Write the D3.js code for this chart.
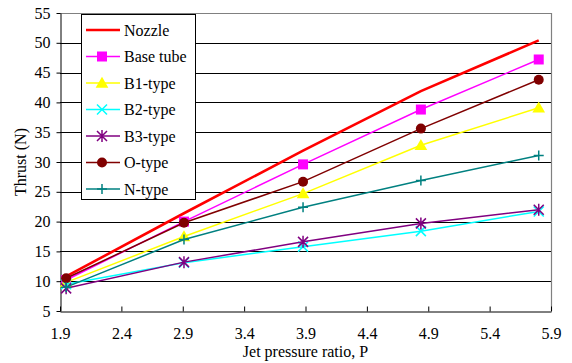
<!DOCTYPE html>
<html>
<head>
<meta charset="utf-8">
<script src="https://cdn.jsdelivr.net/npm/d3@7/dist/d3.min.js"></script>
<style>
  html, body { margin: 0; padding: 0; background: #fff; }
  svg { display: block; font-family: "Liberation Serif", "Times New Roman", serif; }
</style>
</head>
<body>
<svg id="chart" width="572" height="363"></svg>
<script>
// Jet pressure ratio at each measurement
const pressureRatio = [1.95, 2.91, 3.88, 4.84, 5.8];

// Thrust (N) per configuration
const nozzle   = [10.8, 21.4, 31.9, 41.9, 50.4];
const baseTube = [10.2, 20.0, 29.6, 38.8, 47.2];
const b1Type   = [9.8, 17.5, 24.7, 32.8, 39.1];
const b2Type   = [9.5, 13.1, 15.8, 18.4, 21.7];
const b3Type   = [8.8, 13.2, 16.6, 19.7, 22.0];
const oType    = [10.5, 19.8, 26.7, 35.6, 43.8];
const nType    = [9.0, 17.0, 22.4, 26.9, 31.1];

const seriesNames = ["Nozzle", "Base tube", "B1-type", "B2-type", "B3-type", "O-type", "N-type"];

const xTicks = [1.9, 2.4, 2.9, 3.4, 3.9, 4.4, 4.9, 5.4, 5.9];
const yTicks = [5, 10, 15, 20, 25, 30, 35, 40, 45, 50, 55];

const xTitle = "Jet pressure ratio, P";
const yTitle = "Thrust (N)";

// Styling for each series
const styles = [
  { color: "#ff0000", width: 2.6, marker: "none" },
  { color: "#ff00ff", width: 1.5, marker: "square" },
  { color: "#ffff00", width: 1.5, marker: "triangle" },
  { color: "#00ffff", width: 1.5, marker: "times" },
  { color: "#800080", width: 1.5, marker: "star" },
  { color: "#800000", width: 1.5, marker: "circle" },
  { color: "#008080", width: 1.5, marker: "plus" }
];

const seriesData = [nozzle, baseTube, b1Type, b2Type, b3Type, oType, nType];
const series = seriesNames.map((name, i) => ({
  name,
  style: styles[i],
  points: pressureRatio.map((p, j) => ({ x: p, y: seriesData[i][j] }))
}));

const plot = { left: 60, right: 551, top: 13, bottom: 311 };

const x = d3.scaleLinear().domain([1.9, 5.9]).range([plot.left, plot.right]);
const y = d3.scaleLinear().domain([5, 55]).range([plot.bottom, plot.top]);

const svg = d3.select("#chart");

// Horizontal gridlines
svg.append("g")
  .selectAll("line")
  .data(yTicks.filter(t => t > 5 && t < 55))
  .join("line")
  .attr("x1", plot.left).attr("x2", plot.right)
  .attr("y1", d => Math.round(y(d)) + 0.5).attr("y2", d => Math.round(y(d)) + 0.5)
  .attr("stroke", "#000").attr("stroke-width", 1);

// Plot frame: top and right in grey
svg.append("path")
  .attr("d", `M${plot.left},${plot.top + 0.5}H${plot.right + 0.5}V${plot.bottom}`)
  .attr("fill", "none").attr("stroke", "#808080").attr("stroke-width", 1.2);

// Y axis
const yAxis = d3.axisLeft(y).tickValues(yTicks).tickSize(4).tickSizeOuter(0).tickFormat(d3.format("d"));
const gy = svg.append("g").attr("transform", `translate(${plot.left + 0.5},0)`).call(yAxis);
gy.select(".domain").attr("stroke", "#000");
gy.selectAll(".tick line").attr("stroke", "#000");
gy.selectAll(".tick text")
  .attr("x", -10)
  .attr("font-family", "Liberation Serif, Times New Roman, serif")
  .attr("font-size", 16).attr("fill", "#000");

// X axis with ticks pointing into the plot
const xAxis = d3.axisBottom(x).tickValues(xTicks).tickSize(-5).tickSizeOuter(0).tickFormat(d3.format(".1f"));
const gx = svg.append("g").attr("transform", `translate(0,${plot.bottom + 0.5})`).call(xAxis);
gx.select(".domain").attr("stroke", "#000");
gx.selectAll(".tick line").attr("stroke", "#000");
gx.selectAll(".tick text")
  .attr("y", 16)
  .attr("font-family", "Liberation Serif, Times New Roman, serif")
  .attr("font-size", 16).attr("fill", "#000");

// Axis titles
svg.append("text")
  .attr("x", (plot.left + plot.right) / 2).attr("y", 357)
  .attr("text-anchor", "middle").attr("font-size", 16).attr("fill", "#000")
  .text(xTitle);

svg.append("text")
  .attr("transform", `translate(26,${(plot.top + plot.bottom) / 2}) rotate(-90)`)
  .attr("text-anchor", "middle").attr("font-size", 16).attr("fill", "#000")
  .text(yTitle);

// Marker drawing
function drawMarker(g, type, color) {
  const s = 5;
  switch (type) {
    case "square":
      g.append("rect").attr("x", -s).attr("y", -s).attr("width", 2 * s).attr("height", 2 * s)
        .attr("fill", color);
      break;
    case "triangle":
      g.append("path").attr("d", d3.symbol(d3.symbolTriangle, 70)()).attr("fill", color)
        .attr("transform", "translate(0,1)");
      break;
    case "circle":
      g.append("circle").attr("r", 5).attr("fill", color);
      break;
    case "times":
      g.append("path").attr("d", `M${-s},${-s}L${s},${s}M${-s},${s}L${s},${-s}`)
        .attr("stroke", color).attr("stroke-width", 1.5).attr("fill", "none");
      break;
    case "star":
      g.append("path").attr("d", `M${-s},${-s}L${s},${s}M${-s},${s}L${s},${-s}M0,${-s - 1}L0,${s + 1}`)
        .attr("stroke", color).attr("stroke-width", 1.5).attr("fill", "none");
      break;
    case "plus":
      g.append("path").attr("d", `M${-s},0L${s},0M0,${-s}L0,${s}`)
        .attr("stroke", color).attr("stroke-width", 1.5).attr("fill", "none");
      break;
  }
}

// Series lines and markers
const line = d3.line().x(d => x(d.x)).y(d => y(d.y));
const gSeries = svg.append("g");
series.forEach(s => {
  const g = gSeries.append("g");
  g.append("path").datum(s.points)
    .attr("d", line).attr("fill", "none")
    .attr("stroke", s.style.color).attr("stroke-width", s.style.width);
  if (s.style.marker !== "none") {
    g.selectAll("g.m").data(s.points).join("g")
      .attr("class", "m")
      .attr("transform", d => `translate(${x(d.x)},${y(d.y)})`)
      .each(function () { drawMarker(d3.select(this), s.style.marker, s.style.color); });
  }
});

// Legend
const legend = svg.append("g").attr("transform", "translate(81,14)");
legend.append("rect")
  .attr("x", 0.5).attr("y", 0.5).attr("width", 114).attr("height", 185)
  .attr("fill", "#fff").attr("stroke", "#000").attr("stroke-width", 1);

series.forEach((s, i) => {
  const row = legend.append("g").attr("transform", `translate(0,${16 + i * 26.5})`);
  row.append("line").attr("x1", 5).attr("x2", 39).attr("y1", 0).attr("y2", 0)
    .attr("stroke", s.style.color).attr("stroke-width", s.style.width);
  if (s.style.marker !== "none") {
    const m = row.append("g").attr("transform", "translate(21,0)");
    drawMarker(m, s.style.marker, s.style.color);
  }
  row.append("text").attr("x", 43).attr("y", 5.5)
    .attr("font-size", 16).attr("fill", "#000").text(s.name);
});
</script>
</body>
</html>
